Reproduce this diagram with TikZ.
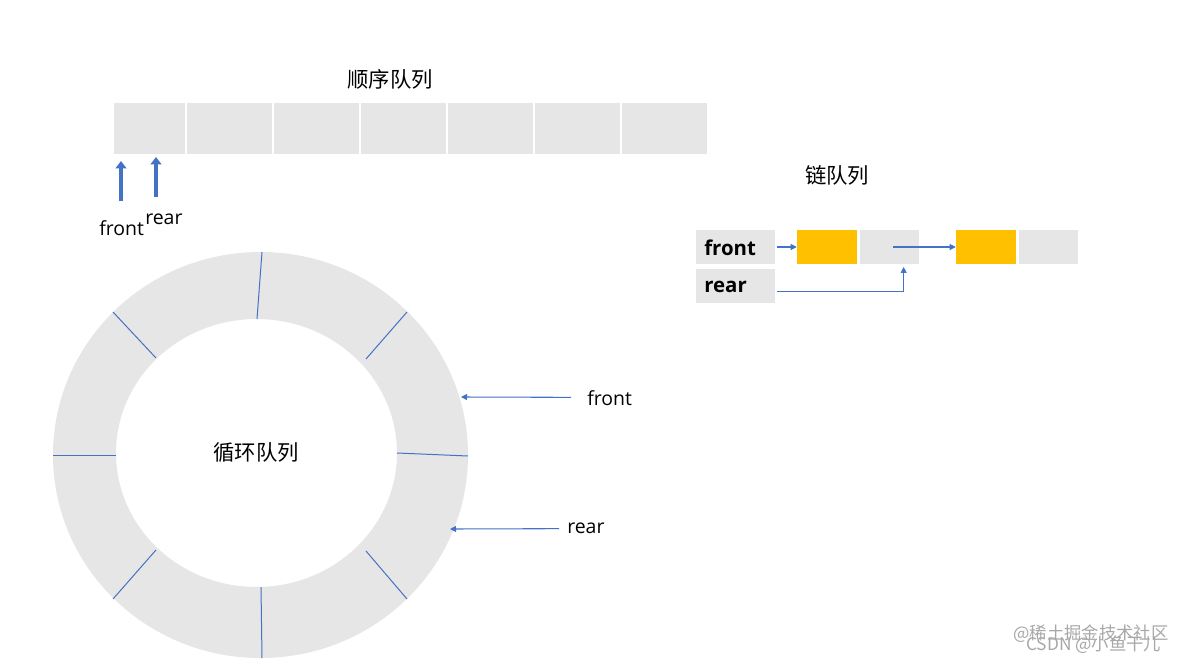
\documentclass[tikz,border=0pt]{standalone}
\usepackage{fontspec}
\setmainfont{Noto Sans CJK SC}
\newfontfamily\latinfont{Open Sans}
\usetikzlibrary{arrows.meta}
\definecolor{cellgray}{HTML}{E6E6E6}
\definecolor{qyellow}{HTML}{FFC000}
\definecolor{qblue}{HTML}{4472C4}
\definecolor{qdark}{HTML}{2F528F}
\definecolor{wmgray}{HTML}{A8A8A8}
\tikzset{
  seqcell/.style={fill=cellgray, draw=none, minimum height=38.25pt, inner sep=0pt},
  lkcell/.style={fill=cellgray, draw=none, minimum width=59.25pt, minimum height=25.5pt, inner sep=0pt},
  ycell/.style={fill=qyellow, draw=none, minimum width=45pt, minimum height=25.5pt, inner sep=0pt},
  gcell/.style={fill=cellgray, draw=none, minimum width=44.25pt, minimum height=25.5pt, inner sep=0pt},
  title/.style={font=\fontsize{16}{18}\selectfont, inner sep=0pt},
  lbl/.style={font=\latinfont\fontsize{14.6}{16}\selectfont, inner sep=0pt},
  blbl/.style={font=\latinfont\fontsize{15.3}{17}\selectfont\bfseries, inner sep=0pt},
  arr/.style={draw=qblue, line width=0.8pt, -{Triangle[length=4.5pt,width=4.5pt]}},
  blockarr/.style={draw=qblue, line width=3pt, -{Triangle[length=5.5pt,width=8pt]}},
  divline/.style={draw=qblue, line width=0.75pt},
  wm/.style={font=\fontsize{13}{15}\selectfont, text=wmgray, inner sep=0pt}
}
\begin{document}
\begin{tikzpicture}[x=0.75pt,y=-0.75pt]
\useasboundingbox[fill=white] (0,0) rectangle (1193,664);

% ---- sequential queue ----
\node[title] (seqtitle) at (390,79) {顺序队列};
\node[seqcell, minimum width=53.25pt] (c1) at (149.5,128.5) {};
\node[seqcell, minimum width=63.75pt] (c2) at (229.5,128.5) {};
\node[seqcell, minimum width=63.75pt] (c3) at (316.5,128.5) {};
\node[seqcell, minimum width=63.75pt] (c4) at (403.5,128.5) {};
\node[seqcell, minimum width=63.75pt] (c5) at (490.5,128.5) {};
\node[seqcell, minimum width=63.75pt] (c6) at (577.5,128.5) {};
\node[seqcell, minimum width=63.75pt] (c7) at (664,128.5) {};
\coordinate (fa0) at (121,201);
\coordinate (fa1) at (121,161);
\coordinate (ra0) at (156,197);
\coordinate (ra1) at (156,157);
\draw[blockarr] (fa0) -- (fa1);
\draw[blockarr] (ra0) -- (ra1);
\node[lbl, anchor=west] (seqfront) at (99,228) {front};
\node[lbl, anchor=west] (seqrear) at (145,219) {rear};

% ---- circular queue ----
\fill[cellgray, even odd rule] (260.5,455) ellipse [x radius=207.5, y radius=203]
  (256.5,453) ellipse [x radius=140.5, y radius=134];
\draw[divline] (262,252) -- (257,319);
\draw[divline] (261,587) -- (262,658);
\draw[divline] (53,455) -- (116,455);
\draw[divline] (397,453) -- (468,456);
\draw[divline] (113,312) -- (156,358);
\draw[divline] (407,312) -- (366,359);
\draw[divline] (113,599) -- (156,550);
\draw[divline] (407,599) -- (366,551);
\node[title] (circtitle) at (256,452) {循环队列};
\node[lbl, anchor=west] (ringfront) at (587,398) {front};
\node[lbl, anchor=west] (ringrear) at (567,528) {rear};
\coordinate (rfin) at (461,397);
\coordinate (rrin) at (450,529);
\draw[arr] ([xshift=-12pt,yshift=0.5pt]ringfront.west) -- (rfin);
\draw[arr] ([xshift=-6pt,yshift=-0.5pt]ringrear.west) -- (rrin);

% ---- linked queue ----
\node[title] (lktitle) at (837,175) {链队列};
\node[lkcell] (lf) at (735.5,247) {};
\node[lkcell] (lr) at (735.5,286) {};
\node[blbl, anchor=west] at (704,248) {front};
\node[blbl, anchor=west] at (704,287) {rear};
\node[ycell] (y1) at (827,247) {};
\node[gcell] (g1) at (889,247) {};
\node[ycell] (y2) at (986,247) {};
\node[gcell] (g2) at (1048,247) {};
\draw[arr] ([xshift=1pt]lf.east) -- (y1.west);
\draw[arr] ([xshift=3pt]g1.center) -- (y2.west);
\draw[arr] ([xshift=1pt,yshift=-4pt]lr.east) -| ([xshift=11pt,yshift=-2pt]g1.south);

% ---- watermark ----
\node[wm, anchor=west] (wm1) at (1013,634) {@稀土掘金技术社区};
\node[wm, anchor=west] (wm2) at (1026,645) {CSDN @小鱼干儿};
\end{tikzpicture}
\end{document}
